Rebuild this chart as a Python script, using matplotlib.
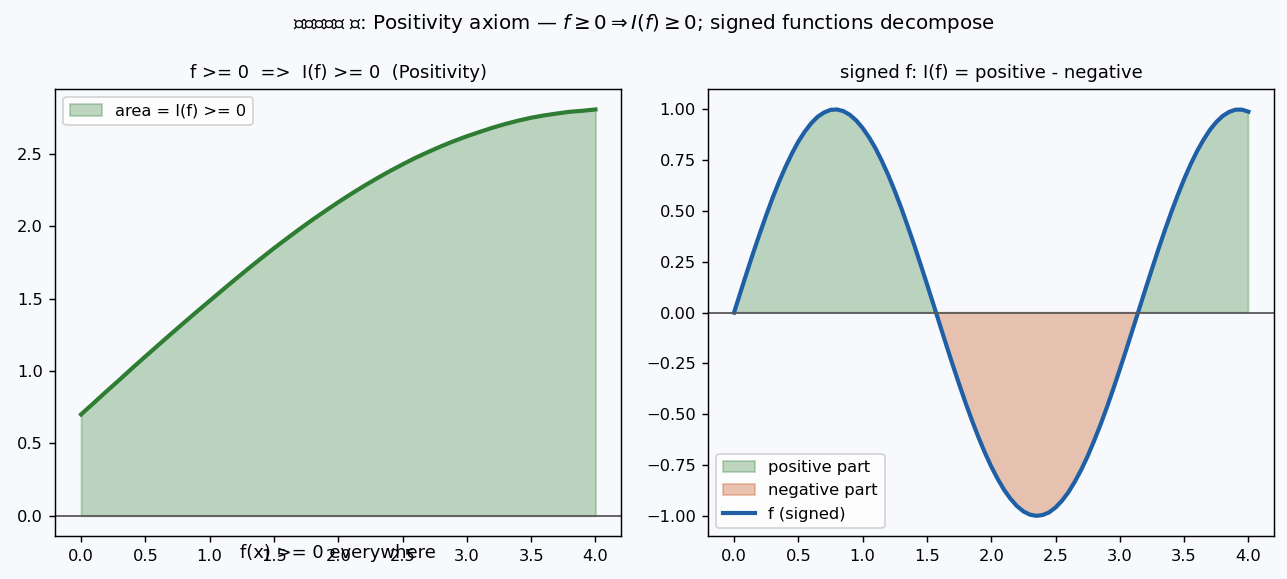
import numpy as np
import matplotlib
matplotlib.use('Agg')
import matplotlib.pyplot as plt

plt.rcParams['font.size'] = 9

# left panel: non-negative f, read off at x = 0, 0.1, ..., 4
x_pos = [round(0.1 * i, 1) for i in range(41)]
f_pos = [0.700, 0.780, 0.861, 0.940, 1.021, 1.100, 1.178, 1.256, 1.333, 1.409,
         1.484, 1.559, 1.633, 1.706, 1.777, 1.847, 1.914, 1.980, 2.044, 2.105,
         2.165, 2.222, 2.277, 2.329, 2.379, 2.426, 2.471, 2.512, 2.551, 2.587,
         2.620, 2.650, 2.679, 2.705, 2.728, 2.748, 2.764, 2.777, 2.789, 2.796,
         2.805]

x_sig = [round(0.05 * i, 2) for i in range(81)]
f_sig = [0.000, 0.100, 0.199, 0.296, 0.389, 0.479, 0.565, 0.644, 0.717, 0.783,
         0.842, 0.891, 0.932, 0.964, 0.985, 0.998, 1.000, 0.992, 0.974, 0.946,
         0.909, 0.863, 0.809, 0.746, 0.676, 0.599, 0.516, 0.427, 0.335, 0.239,
         0.141, 0.042, -0.058, -0.158, -0.256, -0.351, -0.443, -0.530, -0.612, -0.688,
         -0.757, -0.818, -0.872, -0.916, -0.952, -0.978, -0.994, -1.000, -0.996, -0.983,
         -0.959, -0.926, -0.884, -0.832, -0.773, -0.706, -0.631, -0.551, -0.465, -0.374,
         -0.279, -0.182, -0.083, 0.017, 0.117, 0.215, 0.312, 0.405, 0.494, 0.578,
         0.657, 0.729, 0.794, 0.850, 0.899, 0.938, 0.968, 0.988, 0.999, 0.999,
         0.989]

bg = '#f7f9fc'
green = '#2e7d32'
orange = '#cc6633'
blue = '#1f5fa6'

fig, (ax1, ax2) = plt.subplots(1, 2, figsize=(9.9, 4.454), dpi=130)
fig.patch.set_facecolor(bg)
fig.subplots_adjust(left=0.043, right=0.990, top=0.846, bottom=0.074, wspace=0.154)

# left
ax1.set_facecolor(bg)
ax1.fill_between(x_pos, 0, f_pos, color=green, alpha=0.3, label='area = I(f) >= 0')
ax1.plot(x_pos, f_pos, color=green, lw=2.3)
ax1.axhline(0, color='0.35', lw=1)
ax1.set_title('f >= 0  =>  I(f) >= 0  (Positivity)', fontsize=10)
ax1.legend(loc='upper left')
ax1.text(0.5, -0.038, 'f(x) >= 0 everywhere', transform=ax1.transAxes,
         ha='center', va='center', fontsize=10)

# right
xs = np.array(x_sig)
fs = np.array(f_sig)
ax2.set_facecolor(bg)
ax2.fill_between(xs, 0, fs, where=fs >= 0, interpolate=True, color=green,
                 alpha=0.3, label='positive part')
ax2.fill_between(xs, 0, fs, where=fs <= 0, interpolate=True, color=orange,
                 alpha=0.38, label='negative part')
ax2.plot(xs, fs, color=blue, lw=2.3, label='f (signed)')
ax2.axhline(0, color='0.35', lw=1)
ax2.set_title('signed f: I(f) = positive - negative', fontsize=10)
ax2.legend(loc='lower left')

fig.suptitle('积分的公理 二: Positivity axiom — $f \\geq 0 \\Rightarrow I(f) \\geq 0$; signed functions decompose',
             fontsize=11, y=0.98)

plt.savefig('out.png', dpi=130, facecolor=bg)
